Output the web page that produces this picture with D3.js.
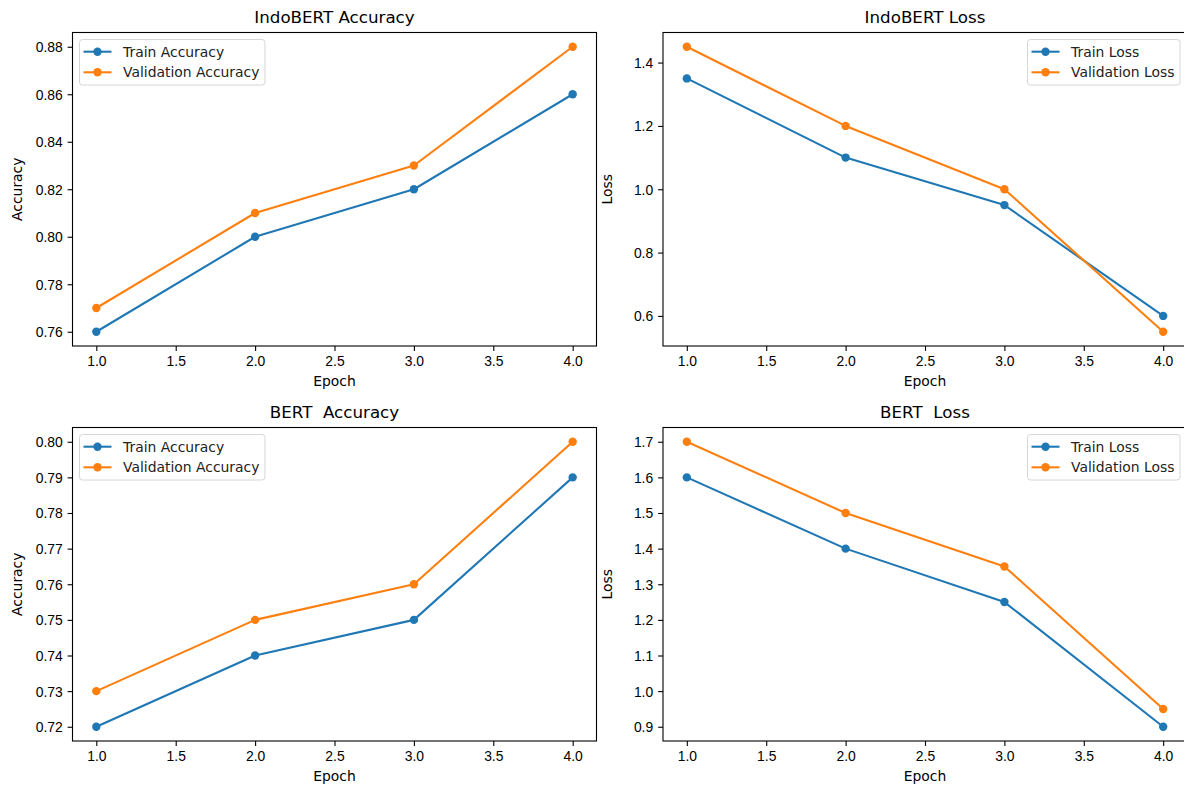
<!DOCTYPE html>
<html><head><meta charset="utf-8">
<script src="https://cdn.jsdelivr.net/npm/d3@7"></script>
<style>
body{margin:0;background:#fff;}
svg{display:block;font-family:"DejaVu Sans",sans-serif;}
.tick text{font-size:13.9px;fill:#000;}
.tick line{stroke:#000;stroke-width:1.1;}
.domain{display:none;}
</style></head><body>
<svg id="c" width="1184" height="787"></svg>
<script>
const epochs = [1, 2, 3, 4];
const indoTrainAcc = [0.76, 0.80, 0.82, 0.86];
const indoValAcc = [0.77, 0.81, 0.83, 0.88];
const indoTrainLoss = [1.35, 1.10, 0.95, 0.60];
const indoValLoss = [1.45, 1.20, 1.00, 0.55];
const bertTrainAcc = [0.72, 0.74, 0.75, 0.79];
const bertValAcc = [0.73, 0.75, 0.76, 0.80];
const bertTrainLoss = [1.60, 1.40, 1.25, 0.90];
const bertValLoss = [1.70, 1.50, 1.35, 0.95];
const xTicks = [1.0, 1.5, 2.0, 2.5, 3.0, 3.5, 4.0];
const titles = ["IndoBERT Accuracy", "IndoBERT Loss", "BERT  Accuracy", "BERT  Loss"];
const yLabels = ["Accuracy", "Loss", "Accuracy", "Loss"];
const seriesNames = [["Train Accuracy", "Validation Accuracy"], ["Train Loss", "Validation Loss"], ["Train Accuracy", "Validation Accuracy"], ["Train Loss", "Validation Loss"]];
const yTickSets = [
  [0.76, 0.78, 0.80, 0.82, 0.84, 0.86, 0.88],
  [0.6, 0.8, 1.0, 1.2, 1.4],
  [0.72, 0.73, 0.74, 0.75, 0.76, 0.77, 0.78, 0.79, 0.80],
  [0.9, 1.0, 1.1, 1.2, 1.3, 1.4, 1.5, 1.6, 1.7]
];
const yFormats = [".2f", ".1f", ".2f", ".1f"];
const legendPos = ["left", "right", "left", "right"];
const colors = ["#1f77b4", "#ff7f0e"];

const panels = [
  {train: indoTrainAcc, val: indoValAcc, box: [72.5, 32.5, 596.5, 346]},
  {train: indoTrainLoss, val: indoValLoss, box: [663, 32.5, 1187, 346]},
  {train: bertTrainAcc, val: bertValAcc, box: [72.5, 427.5, 596.5, 741]},
  {train: bertTrainLoss, val: bertValLoss, box: [663, 427.5, 1187, 741]}
];

const svg = d3.select("#c");

panels.forEach((p, i) => {
  const [x0, y0, x1, y1] = p.box;
  const g = svg.append("g");
  const xs = d3.scaleLinear().domain([0.85, 4.15]).range([x0, x1]);
  const all = p.train.concat(p.val);
  const mn = d3.min(all), mx = d3.max(all), m = (mx - mn) * 0.05;
  const ys = d3.scaleLinear().domain([mn - m, mx + m]).range([y1, y0]);

  g.append("g").attr("transform", `translate(0,${y1})`)
    .call(d3.axisBottom(xs).tickValues(xTicks).tickFormat(d3.format(".1f")).tickSizeOuter(0).tickSize(4.9).tickPadding(4.9));
  const ya = g.append("g").attr("transform", `translate(${x0},0)`)
    .call(d3.axisLeft(ys).tickValues(yTickSets[i]).tickFormat(d3.format(yFormats[i])).tickSizeOuter(0).tickSize(4.9).tickPadding(4.9));
  ya.selectAll("text").attr("dy", "0.35em");

  [p.train, p.val].forEach((vals, k) => {
    const line = d3.line().x((d, j) => xs(epochs[j])).y(d => ys(d));
    g.append("path").datum(vals).attr("d", line).attr("fill", "none")
      .attr("stroke", colors[k]).attr("stroke-width", 2.08).attr("stroke-linejoin", "round");
    g.selectAll(null).data(vals).enter().append("circle")
      .attr("cx", (d, j) => xs(epochs[j])).attr("cy", d => ys(d)).attr("r", 4.2)
      .attr("fill", colors[k]);
  });

  g.append("rect").attr("x", x0).attr("y", y0).attr("width", x1 - x0).attr("height", y1 - y0)
    .attr("fill", "none").attr("stroke", "#000").attr("stroke-width", 1.1);

  g.append("text").attr("x", (x0 + x1) / 2).attr("y", y0 - 10).attr("text-anchor", "middle")
    .attr("font-size", 16.7).style("white-space", "pre").text(titles[i]);
  g.append("text").attr("x", (x0 + x1) / 2).attr("y", y1 + 40).attr("text-anchor", "middle")
    .attr("font-size", 13.9).text("Epoch");
  const ylx = x0 - 51;
  g.append("text").attr("transform", `translate(${ylx},${(y0 + y1) / 2}) rotate(-90)`)
    .attr("text-anchor", "middle").attr("font-size", 13.9).text(yLabels[i]);

  const lg = g.append("g");
  const names = seriesNames[i];
  const tmp = lg.append("text").attr("font-size", 13.9).text(names[1]);
  const tw = tmp.node().getComputedTextLength();
  tmp.remove();
  const bw = 4 + 28 + 11 + tw + 6;
  const bh = 45.5;
  const bx = legendPos[i] === "left" ? x0 + 7 : x1 - 7 - bw;
  const by = y0 + 7;
  lg.append("rect").attr("x", bx).attr("y", by).attr("width", bw).attr("height", bh)
    .attr("rx", 3).attr("fill", "#fff").attr("fill-opacity", 0.8)
    .attr("stroke", "#d6d6d6").attr("stroke-width", 1);
  names.forEach((n, k) => {
    const ry = by + 12.2 + k * 20.6;
    lg.append("line").attr("x1", bx + 4).attr("x2", bx + 32).attr("y1", ry).attr("y2", ry)
      .attr("stroke", colors[k]).attr("stroke-width", 2.08);
    lg.append("circle").attr("cx", bx + 18).attr("cy", ry).attr("r", 4.2).attr("fill", colors[k]);
    lg.append("text").attr("x", bx + 43.5).attr("y", ry).attr("dy", "0.35em")
      .attr("font-size", 13.9).attr("fill", "#222").text(n);
  });
});
</script>
</body></html>
